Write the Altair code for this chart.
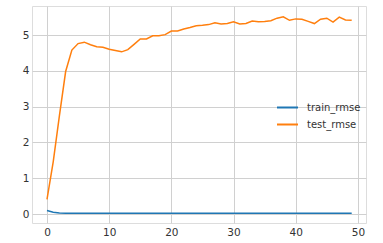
import altair as alt
import pandas as pd

epochs = list(range(50))
train_rmse = [0.10, 0.05, 0.03, 0.025] + [0.025] * 46
test_rmse = [0.41, 1.46, 2.75, 3.98, 4.58, 4.76, 4.80, 4.73, 4.67, 4.66,
             4.60, 4.57, 4.53, 4.59, 4.74, 4.89, 4.89, 4.98, 4.98, 5.01,
             5.11, 5.11, 5.17, 5.21, 5.26, 5.27, 5.29, 5.34, 5.31, 5.32,
             5.37, 5.31, 5.32, 5.39, 5.37, 5.38, 5.40, 5.47, 5.51, 5.41,
             5.45, 5.44, 5.38, 5.32, 5.44, 5.47, 5.36, 5.50, 5.42, 5.41]
series = ["train_rmse", "test_rmse"]
colors = ["#1f77b4", "#ff7f0e"]

rows = []
for e, tr, te in zip(epochs, train_rmse, test_rmse):
    rows.append({"epoch": e, "value": tr, "series": series[0]})
    rows.append({"epoch": e, "value": te, "series": series[1]})
df = pd.DataFrame(rows)

chart = alt.Chart(df).mark_line(strokeWidth=1.5, clip=True).encode(
    x=alt.X("epoch:Q", scale=alt.Scale(domain=[-2.41, 51.3], nice=False, zero=False),
            axis=alt.Axis(values=[0, 10, 20, 30, 40, 50], title=None, tickSize=0,
                          labelPadding=4, domain=False, gridColor="#d0d0d0",
                          labelColor="#333333", labelFontSize=10.5, labelFont="DejaVu Sans")),
    y=alt.Y("value:Q", scale=alt.Scale(domain=[-0.25, 5.81], nice=False, zero=False),
            axis=alt.Axis(values=[0, 1, 2, 3, 4, 5], title=None, tickSize=0,
                          labelPadding=3, domain=False, gridColor="#d0d0d0",
                          labelColor="#333333", labelFontSize=10.5, labelFont="DejaVu Sans")),
    color=alt.Color("series:N", scale=alt.Scale(domain=series, range=colors),
                    legend=alt.Legend(title=None, orient="none", legendX=244, legendY=90,
                                      symbolType="stroke", symbolSize=441, symbolStrokeWidth=2,
                                      labelOffset=8,
                                      labelFontSize=10, labelFont="DejaVu Sans",
                                      labelColor="#333333", rowPadding=-7)),
    order="epoch:Q",
).properties(
    width=334, height=217,
    padding={"left": 32, "top": 6, "right": 17, "bottom": 20},
    autosize=alt.AutoSizeParams(type="none"),
).configure_view(stroke="#d0d0d0", strokeWidth=1).configure(background="white")

chart.save("out.html", embed_options={"renderer": "svg", "actions": False})
